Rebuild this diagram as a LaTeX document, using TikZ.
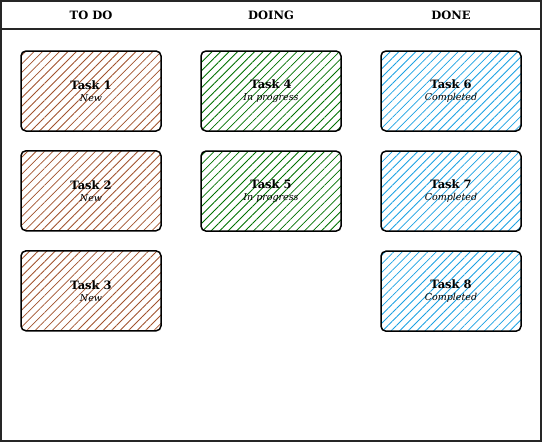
\documentclass[tikz,border=0pt]{standalone}
\usepackage{fontspec}
\setmainfont{DejaVu Serif}
\usepackage{tikz}
\usetikzlibrary{positioning,patterns.meta}
\definecolor{kbbrown}{RGB}{160,82,45}
\definecolor{kbgreen}{RGB}{0,112,0}
\definecolor{kbblue}{RGB}{27,161,226}

\begin{document}
\begin{tikzpicture}[x=1pt, y=-1pt,
  node distance=18.6pt,
  card/.style={rectangle, rounded corners=5pt, draw=black, line width=1.5pt,
    minimum width=140pt, minimum height=80pt, align=center, inner sep=2pt,
    font=\fontsize{11.5}{12}\selectfont},
  todo/.style={card, pattern={Lines[angle=45, distance=6pt, line width=0.8pt]}, pattern color=kbbrown},
  doing/.style={card, pattern={Lines[angle=45, distance=6pt, line width=0.8pt]}, pattern color=kbgreen},
  done/.style={card, pattern={Lines[angle=45, distance=6pt, line width=0.8pt]}, pattern color=kbblue},
  head/.style={font=\fontsize{11.5}{12}\selectfont\bfseries}]
\newcommand{\tasksub}[1]{{\fontsize{9.5}{10}\selectfont\itshape #1}}

\useasboundingbox (0,0) rectangle (542,442);
\draw[line width=1.2pt, black!85] (1,1) rectangle (541,441);
\draw[line width=1.2pt, black!85] (1,29) -- (541,29);

\node[head] (htodo) at (91,15) {TO DO};
\node[head] (hdoing) at (271,15) {DOING};
\node[head] (hdone) at (451,15) {DONE};

\node[todo] (t1) at (91,91) {\textbf{Task 1}\\\tasksub{New}};
\node[todo, below=of t1] (t2) {\textbf{Task 2}\\\tasksub{New}};
\node[todo, below=of t2] (t3) {\textbf{Task 3}\\\tasksub{New}};

\node[doing] (t4) at (271,91) {\textbf{Task 4}\\\tasksub{In progress}};
\node[doing, below=of t4] (t5) {\textbf{Task 5}\\\tasksub{In progress}};

\node[done] (t6) at (451,91) {\textbf{Task 6}\\\tasksub{Completed}};
\node[done, below=of t6] (t7) {\textbf{Task 7}\\\tasksub{Completed}};
\node[done, below=of t7] (t8) {\textbf{Task 8}\\\tasksub{Completed}};
\end{tikzpicture}
\end{document}
